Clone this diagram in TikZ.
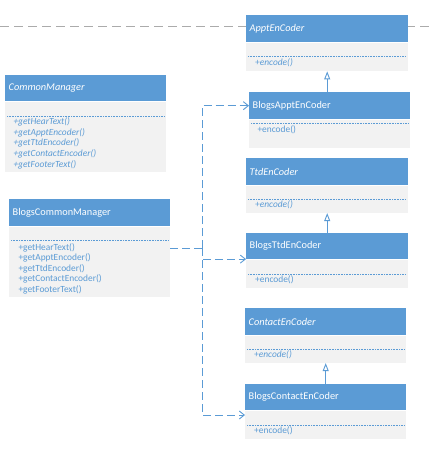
\documentclass[tikz,border=0pt]{standalone}
\usepackage{fontspec}
\setmainfont{Carlito}
\usetikzlibrary{arrows.meta}
\definecolor{hblue}{HTML}{5B9BD5}
\definecolor{bgray}{HTML}{F2F2F2}
\definecolor{mblue}{HTML}{5B9BD5}
\definecolor{lgray}{HTML}{ABABAB}
\begin{document}
\begin{tikzpicture}[x=1pt,y=-1pt,
  hdr/.style={fill=hblue,text=white,anchor=north west,inner xsep=3.5pt,inner ysep=0pt,align=left,font=\fontsize{10.3}{12}\selectfont},
  hdri/.style={hdr,font=\fontsize{10.3}{12}\selectfont\itshape},
  bdy/.style={fill=bgray,anchor=north west,inner sep=0pt},
  mth/.style={text=mblue,anchor=west,inner sep=0pt,align=left,font=\fontsize{9.4}{10.6}\selectfont},
  mthi/.style={mth,font=\fontsize{9.4}{10.6}\selectfont\itshape},
  sep/.style={draw=hblue,line width=0.6pt,dash pattern=on 0.8pt off 0.8pt},
  dep/.style={draw=hblue,line width=0.9pt,dash pattern=on 8pt off 4pt,-{Straight Barb[length=5pt,width=8pt]}},
  depline/.style={draw=hblue,line width=0.9pt,dash pattern=on 8pt off 4pt},
  gen/.style={draw=hblue,line width=0.9pt,-{Triangle[open,length=8pt,width=6pt,fill=white]}},
  guide/.style={draw=lgray,line width=0.9pt,dash pattern=on 9pt off 5pt}]
\useasboundingbox (0,0) rectangle (432,454);
% guide line
\coordinate (gl) at (0,26);
\coordinate (gr) at (432,26);
\draw[guide] (gl) -- (gr);
% ApptEnCoder
\node[hdri,text width=155pt,minimum height=27pt] (aeH) at (246,15) {ApptEnCoder};
\node[bdy,minimum width=162pt,minimum height=28pt] (aeB) at (246,43) {};
\draw[sep] (248,56) -- (406,56);
\node[mthi] (aeM) at (255,63) {+encode()};
% CommonManager
\node[hdri,text width=154pt,minimum height=26pt] (cmH) at (5,75) {CommonManager};
\node[bdy,minimum width=161pt,minimum height=70pt] (cmB) at (5,101.7) {};
\draw[sep] (7,116.3) -- (164,116.3);
\node[mthi] (cmM) at (13.3,143.2) {+getHearText()\\+getApptEncoder()\\+getTtdEncoder()\\+getContactEncoder()\\+getFooterText()};
% BlogsApptEnCoder
\node[hdr,text width=154pt,minimum height=27pt] (baH) at (249,92) {BlogsApptEnCoder};
\node[bdy,minimum width=161pt,minimum height=27.7pt] (baB) at (249,120) {};
\draw[sep] (251,123.3) -- (408,123.3);
\node[mth] (baM) at (257.3,129.3) {+encode()};
% TtdEnCoder
\node[hdri,text width=155pt,minimum height=26.7pt] (teH) at (246,158) {TtdEnCoder};
\node[bdy,minimum width=162pt,minimum height=27.2pt] (teB) at (246,185.5) {};
\draw[sep] (248,199.3) -- (406,199.3);
\node[mthi] (teM) at (255,205) {+encode()};
% BlogsCommonManager
\node[hdr,text width=154pt,minimum height=26.7pt] (bcmH) at (9,199) {BlogsCommonManager};
\node[bdy,minimum width=161pt,minimum height=70.2pt] (bcmB) at (9,226.5) {};
\draw[sep] (11,240.3) -- (168,240.3);
\node[mth] (bcmM) at (18.3,268.7) {+getHearText()\\+getApptEncoder()\\+getTtdEncoder()\\+getContactEncoder()\\+getFooterText()};
% BlogsTtdEnCoder
\node[hdr,text width=155pt,minimum height=26pt] (btH) at (246,232.7) {BlogsTtdEnCoder};
\node[bdy,minimum width=162pt,minimum height=28.2pt] (btB) at (246,259.5) {};
\draw[sep] (248,274.3) -- (406,274.3);
\node[mth] (btM) at (255,280) {+encode()};
% ContactEnCoder
\node[hdri,text width=154pt,minimum height=26.7pt] (ceH) at (245,308) {ContactEnCoder};
\node[bdy,minimum width=161pt,minimum height=27.2pt] (ceB) at (245,335.5) {};
\draw[sep] (247,349.3) -- (404,349.3);
\node[mthi] (ceM) at (254,355) {+encode()};
% BlogsContactEnCoder
\node[hdr,text width=154pt,minimum height=26pt] (bcH) at (245,384) {BlogsContactEnCoder};
\node[bdy,minimum width=161pt,minimum height=27.3pt] (bcB) at (245,411) {};
\draw[sep] (247,425.3) -- (404,425.3);
\node[mth] (bcM) at (254,430.7) {+encode()};
% generalisation
\draw[gen] (baH.north -| aeB.south) -- (aeB.south);
\draw[gen] (btH.north -| teB.south) -- (teB.south);
\draw[gen] (bcH.north -| ceB.south) -- (ceB.south);
% dependencies
\coordinate (j) at (202,248);
\draw[depline] (bcmB.east |- j) -- (j);
\draw[dep] (j) |- (baH.west);
\draw[dep] (j) |- (btH.south west);
\draw[dep] (j) |- ([yshift=-4pt]bcB.north west);
\end{tikzpicture}
\end{document}
